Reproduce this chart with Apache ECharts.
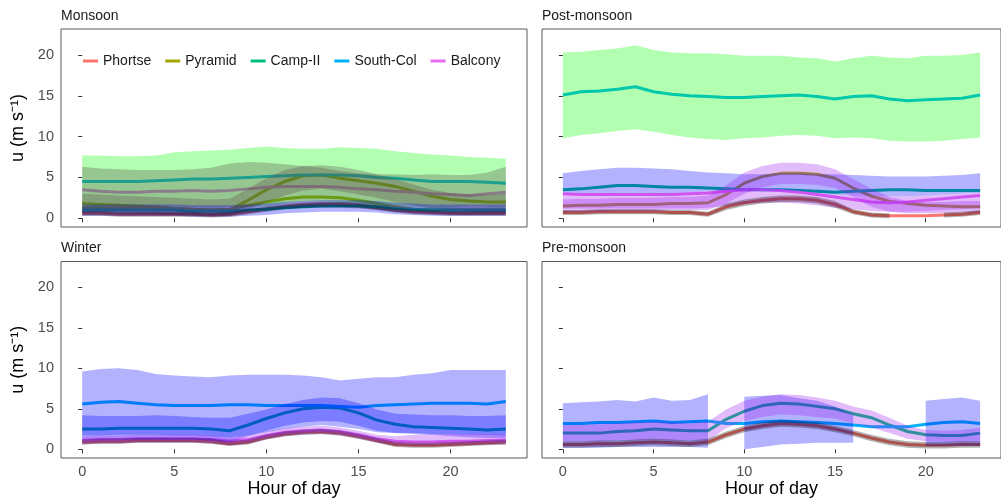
<!DOCTYPE html>
<html><head><meta charset="utf-8">
<script src="https://cdn.jsdelivr.net/npm/echarts@6/dist/echarts.min.js"></script>
<style>html,body{margin:0;padding:0;background:#fff}#c{width:1001px;height:499px}</style>
</head><body><div id="c"></div><script>
const hours = [0,1,2,3,4,5,6,7,8,9,10,11,12,13,14,15,16,17,18,19,20,21,22,23];
const xTicks = [0,5,10,15,20];
const yTicks = [0,5,10,15,20];
const panelTitles = ['Monsoon','Post-monsoon','Winter','Pre-monsoon'];
const stations = ['Phortse','Pyramid','Camp-II','South-Col','Balcony'];

// ---- Monsoon ----
const monPhortse   = [0.6,0.6,0.5,0.5,0.5,0.5,0.5,0.4,0.5,0.8,1.1,1.4,1.6,1.7,1.7,1.6,1.3,1.0,0.8,0.7,0.6,0.6,0.6,0.6];
const monPhortseLo = [0.3,0.3,0.2,0.2,0.2,0.2,0.2,0.1,0.2,0.5,0.8,1.1,1.3,1.4,1.4,1.3,1.0,0.7,0.5,0.4,0.3,0.3,0.3,0.3];
const monPhortseHi = [0.9,0.9,0.8,0.8,0.8,0.8,0.8,0.7,0.8,1.1,1.4,1.7,1.9,2.0,2.0,1.9,1.6,1.3,1.1,1.0,0.9,0.9,0.9,0.9];
const monPyramid   = [1.8,1.7,1.6,1.5,1.4,1.2,1.1,1.0,1.0,2.2,3.5,4.5,5.2,5.3,4.9,4.6,4.3,3.9,3.3,2.7,2.3,2.1,2.0,2.0];
const monPyramidLo = [0.8,0.8,0.7,0.6,0.5,0.4,0.3,0.3,0.3,1.0,2.0,2.8,3.4,3.6,3.3,2.9,2.5,2.0,1.6,1.2,1.0,0.9,0.8,0.8];
const monPyramidHi = [3.0,2.9,2.8,2.7,2.6,2.5,2.4,2.3,2.4,3.6,4.9,5.9,6.4,6.5,6.3,5.9,5.4,4.8,4.1,3.5,3.1,2.9,2.9,3.0];
const monPyramidB  = [1.3,1.3,1.2,1.2,1.2,1.1,1.1,1.0,1.1,1.6,2.0,2.4,2.6,2.6,2.5,2.2,1.8,1.4,1.1,1.0,1.0,1.0,1.0,1.0];
const monCampII    = [1.0,1.0,1.0,1.0,1.0,1.0,0.9,0.9,0.9,1.0,1.1,1.3,1.4,1.5,1.5,1.5,1.4,1.2,1.1,1.0,1.0,1.0,1.0,1.0];
const monCampIILo  = [0.3,0.3,0.3,0.3,0.3,0.3,0.2,0.2,0.2,0.3,0.4,0.6,0.7,0.8,0.8,0.8,0.7,0.5,0.4,0.3,0.3,0.3,0.3,0.3];
const monCampIIHi  = [1.7,1.7,1.7,1.7,1.7,1.7,1.6,1.6,1.6,1.7,1.8,2.0,2.1,2.2,2.2,2.2,2.1,1.9,1.8,1.7,1.7,1.7,1.7,1.7];
const monSouthCol  = [4.5,4.5,4.5,4.5,4.6,4.7,4.8,4.8,4.9,5.0,5.1,5.2,5.3,5.3,5.3,5.2,5.0,4.9,4.7,4.5,4.5,4.5,4.4,4.3];
const monSouthColLo= [1.3,1.3,1.4,1.4,1.5,1.3,1.4,1.3,1.4,1.4,1.4,1.8,2.1,2.1,1.9,1.8,1.5,1.6,1.4,1.2,1.3,1.5,1.4,1.3];
const monSouthColHi= [7.7,7.7,7.6,7.6,7.7,8.1,8.2,8.3,8.4,8.6,8.8,8.6,8.5,8.5,8.7,8.6,8.5,8.2,8.0,7.8,7.7,7.5,7.4,7.3];
const monBalcony   = [3.5,3.3,3.2,3.2,3.3,3.3,3.4,3.3,3.4,3.6,3.8,3.9,3.9,3.9,3.8,3.6,3.5,3.3,3.2,3.0,2.9,2.8,3.0,3.2];
const monBalconyLo = [0.6,0.6,0.5,0.5,0.5,0.5,0.5,0.4,0.5,0.8,1.0,1.2,1.3,1.3,1.3,1.2,1.0,0.8,0.7,0.6,0.5,0.4,0.5,0.5];
const monBalconyHi = [6.3,6.1,6.0,5.9,5.9,5.9,6.0,6.2,6.7,6.9,6.8,6.6,6.4,6.2,5.8,5.5,5.4,5.4,5.3,5.4,5.3,5.3,5.6,6.3];

// ---- Post-monsoon ----
const postPhortse   = [0.7,0.7,0.8,0.8,0.8,0.8,0.7,0.7,0.5,1.4,1.9,2.2,2.4,2.4,2.2,1.7,0.8,0.4,0.3,0.3,0.3,0.4,0.5,0.7];
const postPhortseLo = [0.4,0.4,0.5,0.5,0.5,0.5,0.4,0.4,0.2,1.0,1.5,1.8,2.0,2.0,1.8,1.3,0.5,0.1,0.0,null,null,0.1,0.2,0.4];
const postPhortseHi = [1.0,1.0,1.1,1.1,1.1,1.1,1.0,1.0,0.8,1.8,2.3,2.6,2.8,2.8,2.6,2.1,1.1,0.7,0.6,null,null,0.7,0.8,1.0];
const postPyramid   = [1.5,1.6,1.6,1.7,1.7,1.7,1.8,1.8,1.9,2.9,4.3,5.1,5.5,5.5,5.4,4.9,3.7,2.7,2.1,1.8,1.6,1.5,1.4,1.4];
const postPyramidLo = [0.8,0.8,0.8,0.9,0.9,0.9,1.0,1.0,1.0,1.8,3.0,3.8,4.2,4.2,4.1,3.7,2.6,1.4,0.8,0.6,0.6,0.6,0.7,0.7];
const postPyramidHi = [2.3,2.4,2.4,2.5,2.5,2.5,2.6,2.6,2.8,4.0,5.6,6.4,6.8,6.8,6.6,6.0,4.8,3.6,2.6,2.1,2.0,2.0,2.1,2.1];
const postCampII    = [3.5,3.6,3.8,4.0,4.0,3.9,3.8,3.8,3.7,3.6,3.5,3.5,3.5,3.4,3.3,3.2,3.3,3.4,3.5,3.5,3.4,3.4,3.4,3.4];
const postCampIILo  = [3.2,3.1,3.1,3.1,3.1,3.1,3.1,3.2,3.3,3.4,3.3,3.3,3.3,3.3,3.1,2.9,2.8,2.7,2.7,2.7,2.8,2.9,3.0,3.1];
const postCampIIHi  = [5.5,5.8,6.0,6.2,6.2,6.1,6.0,5.8,5.6,5.5,5.4,5.4,5.5,5.5,5.4,5.4,5.3,5.2,5.1,5.1,5.1,5.2,5.3,5.5];
const postSouthCol  = [15.1,15.5,15.6,15.8,16.1,15.5,15.2,15.0,14.9,14.8,14.8,14.9,15.0,15.1,14.9,14.6,14.9,15.0,14.6,14.4,14.5,14.6,14.7,15.1];
const postSouthColLo= [9.8,10.2,10.4,10.7,10.9,10.6,10.2,9.9,9.7,9.6,9.8,9.9,10.1,10.2,10.1,9.8,9.9,9.8,9.5,9.4,9.4,9.5,9.7,9.9];
const postSouthColHi= [20.3,20.4,20.6,20.8,21.2,20.6,20.3,20.2,20.2,20.1,19.9,19.9,19.9,19.7,19.6,19.2,19.6,19.9,19.7,19.6,19.9,19.9,20.0,20.3];
const postBalcony   = [3.0,2.9,2.9,2.9,2.9,2.9,2.9,3.0,3.1,3.3,3.5,3.5,3.4,3.2,2.9,2.6,2.3,2.0,1.9,2.0,2.2,2.4,2.6,2.8];
const postBalconyLo = [1.2,1.2,1.2,1.2,1.2,1.2,1.2,1.2,1.3,1.5,1.8,1.9,1.9,1.8,1.6,1.3,1.1,0.9,0.8,0.8,0.9,1.0,1.1,1.2];
const postBalconyHi = [3.2,3.1,3.1,3.1,3.1,3.1,3.1,3.2,3.3,3.4,3.3,3.3,3.3,3.3,3.1,2.9,2.8,2.7,2.7,2.7,2.8,2.9,3.0,3.1];

// ---- Winter ----
const winPhortse   = [0.9,1.0,1.0,1.1,1.1,1.1,1.1,1.0,0.7,0.9,1.5,1.9,2.1,2.2,2.0,1.6,1.1,0.6,0.5,0.5,0.6,0.7,0.8,0.9];
const winPhortseLo = [0.6,0.7,0.7,0.8,0.8,0.8,0.8,0.7,0.4,0.6,1.2,1.6,1.8,1.9,1.7,1.3,0.8,0.3,0.2,0.2,0.3,0.4,0.5,0.6];
const winPhortseHi = [1.2,1.3,1.3,1.4,1.4,1.4,1.4,1.3,1.0,1.2,1.8,2.2,2.4,2.5,2.3,1.9,1.4,0.9,0.8,0.8,0.9,1.0,1.1,1.2];
const winCampII    = [2.5,2.5,2.6,2.6,2.6,2.6,2.6,2.5,2.3,3.0,3.8,4.5,5.0,5.2,5.1,4.5,3.6,3.1,2.8,2.7,2.6,2.5,2.4,2.5];
const winCampIILo  = [1.2,1.2,1.2,1.2,1.2,1.2,1.2,1.1,0.9,1.6,2.3,2.9,3.3,3.5,3.4,2.9,2.3,2.0,1.9,1.8,1.6,1.5,1.4,1.3];
const winCampIIHi  = [4.2,4.1,4.1,4.1,4.2,4.1,4.0,3.9,3.9,4.4,4.9,5.6,6.1,6.4,6.3,5.7,4.9,4.4,4.3,4.2,4.2,4.1,4.1,4.2];
const winSouthCol  = [5.6,5.8,5.9,5.7,5.5,5.4,5.4,5.4,5.5,5.5,5.4,5.4,5.4,5.4,5.3,5.2,5.4,5.5,5.6,5.7,5.7,5.7,5.6,5.9];
const winSouthColLo= [1.7,1.7,1.8,1.8,1.8,1.7,1.7,1.6,1.5,1.7,2.1,2.5,2.8,3.0,2.8,2.5,2.1,2.0,2.0,1.9,1.9,1.8,1.8,1.7];
const winSouthColHi= [9.6,9.9,10.0,9.8,9.3,9.1,9.0,8.9,9.1,9.2,9.2,9.2,9.1,8.9,8.5,8.7,8.9,8.9,9.2,9.4,9.8,9.8,9.8,9.8];
const winBalcony   = [1.1,1.2,1.2,1.3,1.3,1.3,1.3,1.2,1.0,1.2,1.7,2.1,2.3,2.4,2.2,1.8,1.3,1.0,0.9,0.9,1.0,1.0,1.1,1.1];
const winBalconyLo = [0.6,0.7,0.7,0.8,0.8,0.8,0.8,0.7,0.5,0.7,1.2,1.6,1.8,1.9,1.7,1.3,0.8,0.5,0.4,0.4,0.5,0.5,0.6,0.6];
const winBalconyHi = [1.6,1.7,1.7,1.8,1.8,1.8,1.8,1.7,1.5,1.7,2.2,2.6,2.8,2.9,2.7,2.3,1.8,1.6,1.8,1.9,1.9,1.9,1.9,1.8];

// ---- Pre-monsoon ----
const prePhortse   = [0.6,0.6,0.7,0.7,0.8,0.9,0.8,0.7,0.9,1.8,2.5,2.9,3.2,3.1,2.9,2.5,2.0,1.4,0.9,0.6,0.5,0.5,0.6,0.6];
const prePhortseLo = [0.2,0.2,0.3,0.3,0.4,0.5,0.4,0.3,0.5,1.4,2.1,2.5,2.8,2.7,2.5,2.1,1.6,1.0,0.5,0.2,0.1,0.1,0.2,0.2];
const prePhortseHi = [1.0,1.0,1.1,1.1,1.2,1.3,1.2,1.1,1.3,2.2,2.9,3.3,3.6,3.5,3.3,2.9,2.4,1.8,1.3,1.0,0.9,0.9,1.0,1.0];
const preCampII    = [2.0,2.0,2.0,2.2,2.3,2.5,2.4,2.3,2.3,3.7,4.7,5.4,5.7,5.6,5.3,5.0,4.4,3.9,3.0,2.2,1.8,1.7,1.7,2.0];
const preCampIILo  = [0.2,0.2,0.2,0.3,0.3,0.3,0.3,0.3,0.2,null,0.0,0.3,0.6,0.7,0.8,0.8,0.8,null,null,null,0.4,0.4,0.4,0.4];
const preCampIIHi  = [5.7,5.8,5.9,6.1,5.9,6.4,6.0,6.1,6.8,null,6.5,6.6,6.7,6.3,6.0,5.3,4.3,null,null,null,6.0,6.2,6.4,6.0];
const prePyramidLo = [1.0,1.0,1.0,1.1,1.1,1.2,1.1,1.1,1.1,2.6,3.5,4.0,4.3,4.2,4.0,3.8,3.2,2.7,2.0,1.3,1.0,0.9,0.9,1.0];
const prePyramidHi = [3.0,3.0,3.1,3.2,3.3,3.4,3.3,3.2,3.4,4.9,6.0,6.5,6.8,6.7,6.4,6.0,5.3,4.8,3.9,2.9,2.4,2.3,2.4,2.7];
const preSouthCol  = [3.2,3.2,3.3,3.3,3.4,3.5,3.3,3.4,3.5,3.2,3.2,3.4,3.5,3.4,3.3,3.2,3.0,2.8,2.8,2.8,3.1,3.3,3.4,3.2];

// ---- styles ----
const lineColors = {'Phortse':'#F8766D','Pyramid':'#A3A500','Camp-II':'#00BF7D','South-Col':'#00B0F6','Balcony':'#E76BF3'};
const fills = {
  green:'rgba(0,255,0,0.3)', blue:'rgba(0,0,255,0.3)', purple:'rgba(160,32,240,0.3)',
  black:'rgba(0,0,0,0.3)', grey:'rgba(90,70,70,0.3)'
};
const panels = [
  { lines:[['Phortse',monPhortse],['Pyramid',monPyramid],['Pyramid',monPyramidB],['Camp-II',monCampII],['South-Col',monSouthCol],['Balcony',monBalcony]],
    ribbons:[[monSouthColLo,monSouthColHi,'green'],[monBalconyLo,monBalconyHi,'grey'],[monPyramidLo,monPyramidHi,'grey'],[monCampIILo,monCampIIHi,'blue'],[monPhortseLo,monPhortseHi,'black']] },
  { lines:[['Phortse',postPhortse],['Pyramid',postPyramid],['Camp-II',postCampII],['South-Col',postSouthCol],['Balcony',postBalcony]],
    ribbons:[[postSouthColLo,postSouthColHi,'green'],[postCampIILo,postCampIIHi,'blue'],[postBalconyLo,postBalconyHi,'purple'],[postPyramidLo,postPyramidHi,'purple'],[postPhortseLo,postPhortseHi,'black']] },
  { lines:[['Phortse',winPhortse],['Camp-II',winCampII],['South-Col',winSouthCol],['Balcony',winBalcony]],
    ribbons:[[winSouthColLo,winSouthColHi,'blue'],[winCampIILo,winCampIIHi,'blue'],[winBalconyLo,winBalconyHi,'purple'],[winPhortseLo,winPhortseHi,'black']] },
  { lines:[['Phortse',prePhortse],['Camp-II',preCampII],['South-Col',preSouthCol]],
    ribbons:[[preCampIILo,preCampIIHi,'blue'],[prePyramidLo,prePyramidHi,'purple'],[prePhortseLo,prePhortseHi,'black']] }
];
const layout = [
  {left:61, top:29, width:466, height:198},
  {left:542, top:29, width:466, height:198},
  {left:61, top:261.5, width:466, height:197},
  {left:542, top:261.5, width:466, height:197}
];
const FONT = 'Liberation Sans, Arial, sans-serif';

const pairs = arr => hours.map((h,k)=>[h, arr[k]]);

function ribbonSeries(i, lo, hi, fill){
  return {type:'custom', xAxisIndex:i, yAxisIndex:i, silent:true, clip:true, z:5,
    data: hours.map((h,k)=>[h, lo[k]==null?'-':lo[k], hi[k]==null?'-':hi[k]]),
    encode:{x:0, y:[1,2]},
    renderItem:(params, api)=>{
      if (params.dataIndex !== 0) return null;
      const segs = []; let cur = [];
      hours.forEach((h,k)=>{
        if (lo[k]==null || hi[k]==null) { if (cur.length) segs.push(cur); cur = []; }
        else cur.push(k);
      });
      if (cur.length) segs.push(cur);
      return {type:'group', children: segs.filter(s=>s.length>1).map(s=>({
        type:'polygon',
        shape:{points:[...s.map(k=>api.coord([hours[k],hi[k]])), ...s.slice().reverse().map(k=>api.coord([hours[k],lo[k]]))]},
        style:{fill:fill, stroke:null}
      }))};
    }};
}

const series = [];
panels.forEach((p,i)=>{
  p.lines.forEach(([name,arr])=>{
    series.push({type:'line', name, xAxisIndex:i, yAxisIndex:i, data:pairs(arr), symbol:'none', showSymbol:false, z:2,
      lineStyle:{width:3, color:lineColors[name]}, itemStyle:{color:lineColors[name]}, silent:true});
  });
  p.ribbons.forEach(([lo,hi,f])=>{ series.push(ribbonSeries(i, lo, hi, fills[f])); });
});

const grids = layout.map(l=>({left:l.left, top:l.top, width:l.width, height:l.height, show:true, borderColor:'#595959', borderWidth:1, containLabel:false}));
const xAxes = layout.map((l,i)=>({gridIndex:i, type:'value', min:-1.15, max:24.15,
  axisLine:{show:false}, splitLine:{show:false},
  axisTick:{show:true, customValues:xTicks, length:4, lineStyle:{color:'#333'}},
  axisLabel:{show:i>=2, customValues:xTicks, fontSize:14.5, color:'#4D4D4D', margin:6, fontFamily:FONT},
  name: i>=2 ? 'Hour of day' : '', nameLocation:'middle', nameGap:22,
  nameTextStyle:{fontSize:18, color:'#000', fontFamily:FONT}}));
const yAxes = layout.map((l,i)=>({gridIndex:i, type:'value', min:-1.07, max:23.18,
  axisLine:{show:false}, splitLine:{show:false},
  axisTick:{show:true, customValues:yTicks, length:4, lineStyle:{color:'#333'}},
  axisLabel:{show:i%2===0, customValues:yTicks, fontSize:14.5, color:'#4D4D4D', margin:7, fontFamily:FONT},
  name: i%2===0 ? 'u (m s\u207B\u00B9)' : '', nameLocation:'middle', nameGap:34, nameRotate:90,
  nameTextStyle:{fontSize:18, color:'#000', fontFamily:FONT}}));

const titles = panelTitles.map((t,i)=>({text:t, left:layout[i].left, top: i<2 ? 9 : 241, padding:0,
  textStyle:{fontSize:14, fontWeight:'normal', color:'#1a1a1a', fontFamily:FONT}}));

const chart = echarts.init(document.getElementById('c'), null, {renderer:'canvas'});
chart.setOption({
  animation:false,
  backgroundColor:'#fff',
  title:titles,
  legend:{left:83, top:54, padding:0, icon:'rect', itemWidth:15, itemHeight:3, itemGap:14,
    data: stations.map(s=>({name:s, itemStyle:{color:lineColors[s]}})),
    textStyle:{fontSize:14, color:'#1a1a1a', fontFamily:FONT}},
  grid:grids, xAxis:xAxes, yAxis:yAxes, series
});
</script></body></html>
